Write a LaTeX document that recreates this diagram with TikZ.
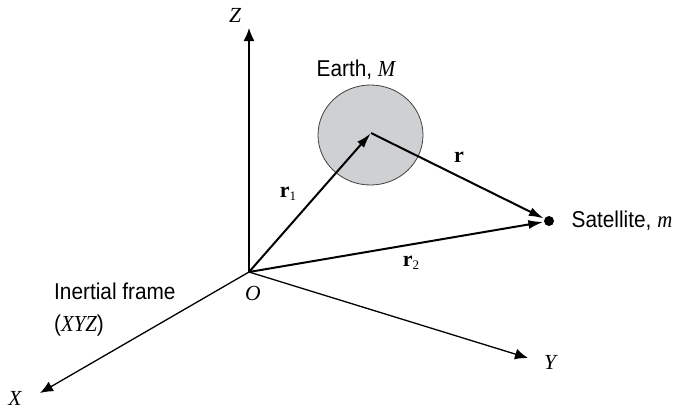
\documentclass[tikz,border=0pt]{standalone}
\usepackage{fontspec}
\setmainfont{Liberation Serif}
\newfontfamily\lsans{Liberation Sans}
\usetikzlibrary{arrows.meta,shapes.geometric}
\definecolor{earthgray}{HTML}{CFD0D2}
\newcommand{\tallsans}[1]{\scalebox{1}[1.1]{#1}}
\tikzset{
  axis/.style={line width=1.3bp, -{Latex[length=13bp,width=11bp]}},
  vec/.style={line width=2bp, -{Latex[length=15bp,width=9bp]}, shorten >=0.5bp},
  sanslabel/.style={font=\lsans\fontsize{20.8bp}{32bp}\selectfont, inner sep=0pt},
  itlabel/.style={font=\fontsize{21.5bp}{24bp}\selectfont\itshape, inner sep=0pt},
  veclabel/.style={font=\fontsize{22bp}{24bp}\selectfont, inner sep=0pt}
}
\begin{document}
\begin{tikzpicture}[x=1bp,y=-1bp]
\useasboundingbox (0,0) rectangle (674,411);
% Earth
\node[ellipse, draw=black!75, line width=0.8bp, fill=earthgray, minimum width=105bp, minimum height=100bp, inner sep=0pt] (earth) at (370.5,135) {};
\coordinate (E) at (371,133);
\coordinate (O) at (249,272);
\coordinate (Zt) at (249,28);
\coordinate (Yt) at (528,358);
\coordinate (Xt) at (40,393);
\node[circle, fill=black, minimum size=10bp, inner sep=0pt] (sat) at (549,221) {};
% axes
\draw[axis] (O) -- (Zt);
\draw[axis] (O) -- (Yt);
\draw[axis] (O) -- (Xt);
% vectors
\draw[vec] (O) -- (E);
\draw[vec] (E) -- (sat);
\draw[vec] (O) -- (sat);
% labels
\node[itlabel] (lZ) at (235,15) {Z};
\node[itlabel] (lY) at (550,362) {Y};
\node[itlabel] (lX) at (15,398) {X};
\node[itlabel] (lO) at (253,293) {O};
\node[sanslabel, anchor=base] (lE) at (356,76) {\tallsans{Earth, {\rmfamily\itshape M}}};
\node[sanslabel, anchor=base west] (lS) at (571.5,227) {\tallsans{Satellite, {\rmfamily\itshape m}}};
\node[sanslabel, anchor=north west, align=left] (lI) at (54,283) {\tallsans{Inertial frame}\\\tallsans{({\rmfamily\itshape XYZ})}};
\node[veclabel] (lr) at (459,157) {\textbf{r}};
\node[veclabel] (lr1) at (288,194) {\textbf{r}\raisebox{-0.25ex}{\fontsize{13bp}{14bp}\selectfont 1}};
\node[veclabel] (lr2) at (411,263) {\textbf{r}\raisebox{-0.25ex}{\fontsize{13bp}{14bp}\selectfont 2}};
\end{tikzpicture}
\end{document}
